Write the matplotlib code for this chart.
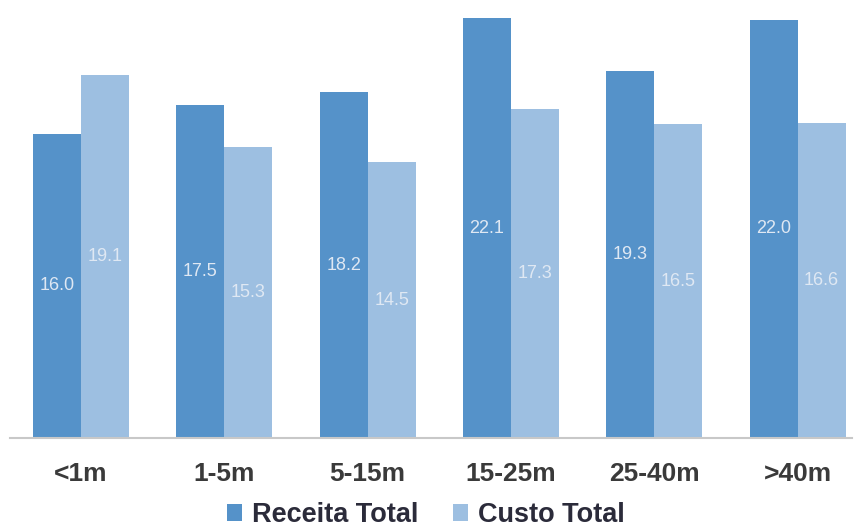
import numpy as np
import matplotlib.pyplot as plt

categorias = ["<1m", "1-5m", "5-15m", "15-25m", "25-40m", ">40m"]
receita = [16.0, 17.5, 18.2, 22.1, 19.3, 22.0]
custo = [19.1, 15.3, 14.5, 17.3, 16.5, 16.6]

cor_receita = "#5592c9"
cor_custo = "#9dbfe1"

plt.rcParams['font.family'] = ['Liberation Sans', 'DejaVu Sans']

fig = plt.figure(figsize=(8.55, 5.27), dpi=100)
ax = fig.add_axes([10/855, 89/527, 842/855, 438/527])

x = np.arange(len(categorias))
w = 0.335
b1 = ax.bar(x - w/2, receita, w, color=cor_receita, label="Receita Total")
b2 = ax.bar(x + w/2, custo, w, color=cor_custo, label="Custo Total")

# valores no meio das barras
for bars, vals in ((b1, receita), (b2, custo)):
    for rect, v in zip(bars, vals):
        ax.text(rect.get_x() + rect.get_width()/2, v/2, f"{v:.1f}",
                ha="center", va="center", color="#dfe8f3", fontsize=13)

ax.set_xlim(-0.495, 5.38)
ax.set_ylim(0, 23.05)
ax.set_xticks(x)
ax.set_xticklabels(categorias, fontsize=19, fontweight="bold", color="#3a3a3a")
ax.tick_params(axis="x", length=0, pad=17)
ax.set_yticks([])
for s in ["top", "right", "left"]:
    ax.spines[s].set_visible(False)
ax.spines["bottom"].set_color("#c8c8c8")
ax.spines["bottom"].set_linewidth(1.5)

leg = fig.legend(handles=[b1, b2], loc="center", bbox_to_anchor=(426/855, 1 - 515/527),
                 ncol=2, frameon=False, handlelength=0.55, handleheight=0.55,
                 handletextpad=0.35, columnspacing=1.3,
                 prop={"weight": "bold", "size": 19.5})
for t in leg.get_texts():
    t.set_color("#2b2b3a")

fig.savefig("out.png", dpi=100)
